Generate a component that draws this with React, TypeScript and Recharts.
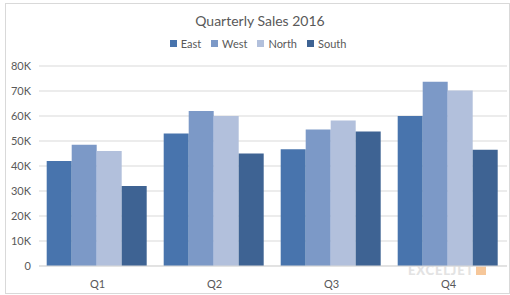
import React from 'react';
import { BarChart, Bar, XAxis, YAxis, CartesianGrid } from 'recharts';

const quarters = ['Q1', 'Q2', 'Q3', 'Q4'];
const series = ['East', 'West', 'North', 'South'];
const east = [42000, 53000, 46700, 60000];
const west = [48500, 62000, 54600, 73700];
const north = [46000, 60000, 58200, 70200];
const south = [32000, 45000, 53800, 46500];
const yTicks = [0, 10000, 20000, 30000, 40000, 50000, 60000, 70000, 80000];

const data = quarters.map((q, i) => ({ name: q, East: east[i], West: west[i], North: north[i], South: south[i] }));

const colors: Record<string, string> = { East: '#4874ad', West: '#7c99c7', North: '#b2c0dc', South: '#3e6393' };
const font = 'Lato, "Open Sans", sans-serif';

const fmt = (v: number) => (v === 0 ? '0' : v / 1000 + 'K');

export default function App() {
  return (
    <div style={{ position: 'fixed', left: 0, top: 0, width: 510, height: 295, background: '#fff' }}>
      <div style={{ position: 'absolute', left: 5, top: 3, width: 503, height: 289, border: '1px solid #d9d9d9' }} />
      <div style={{ position: 'absolute', top: 12, left: 0, width: 520, textAlign: 'center', fontFamily: font, fontSize: 14, color: '#595959' }}>
        Quarterly Sales 2016
      </div>
      <div style={{ position: 'absolute', top: 37, left: 8, width: 510, display: 'flex', justifyContent: 'center', fontFamily: font, fontSize: 11, color: '#595959' }}>
        {series.map((s) => (
          <div key={s} style={{ display: 'flex', alignItems: 'center', marginRight: 10 }}>
            <span style={{ display: 'inline-block', width: 7, height: 7, background: colors[s], marginRight: 4 }} />
            <span>{s}</span>
          </div>
        ))}
      </div>
      <div style={{ position: 'absolute', left: 408, top: 262, fontFamily: 'Lato, sans-serif', fontWeight: 900, fontSize: 13, color: '#e3e3e3', letterSpacing: 0.8 }}>
        EXCELJET
        <span style={{ display: 'inline-block', width: 10, height: 10, background: '#f6c79a', marginLeft: 2 }} />
      </div>
      <div style={{ position: 'absolute', left: 0, top: 0 }}>
        <BarChart width={510} height={295} data={data} margin={{ top: 66, right: 3, left: 0, bottom: 0 }} barCategoryGap={7.7} barGap={0}>
          <CartesianGrid vertical={false} stroke="#d9d9d9" />
          <XAxis dataKey="name" height={29} tickLine={false} tickMargin={8} axisLine={{ stroke: '#d9d9d9' }} tick={{ fontSize: 11, fill: '#595959', fontFamily: font }} />
          <YAxis width={39} domain={[0, 80000]} ticks={yTicks} tickFormatter={fmt} tickLine={false} axisLine={false} tick={{ fontSize: 11, fill: '#595959', fontFamily: font }} />
          {series.map((s) => (
            <Bar key={s} dataKey={s} fill={colors[s]} isAnimationActive={false} />
          ))}
        </BarChart>
      </div>
    </div>
  );
}
